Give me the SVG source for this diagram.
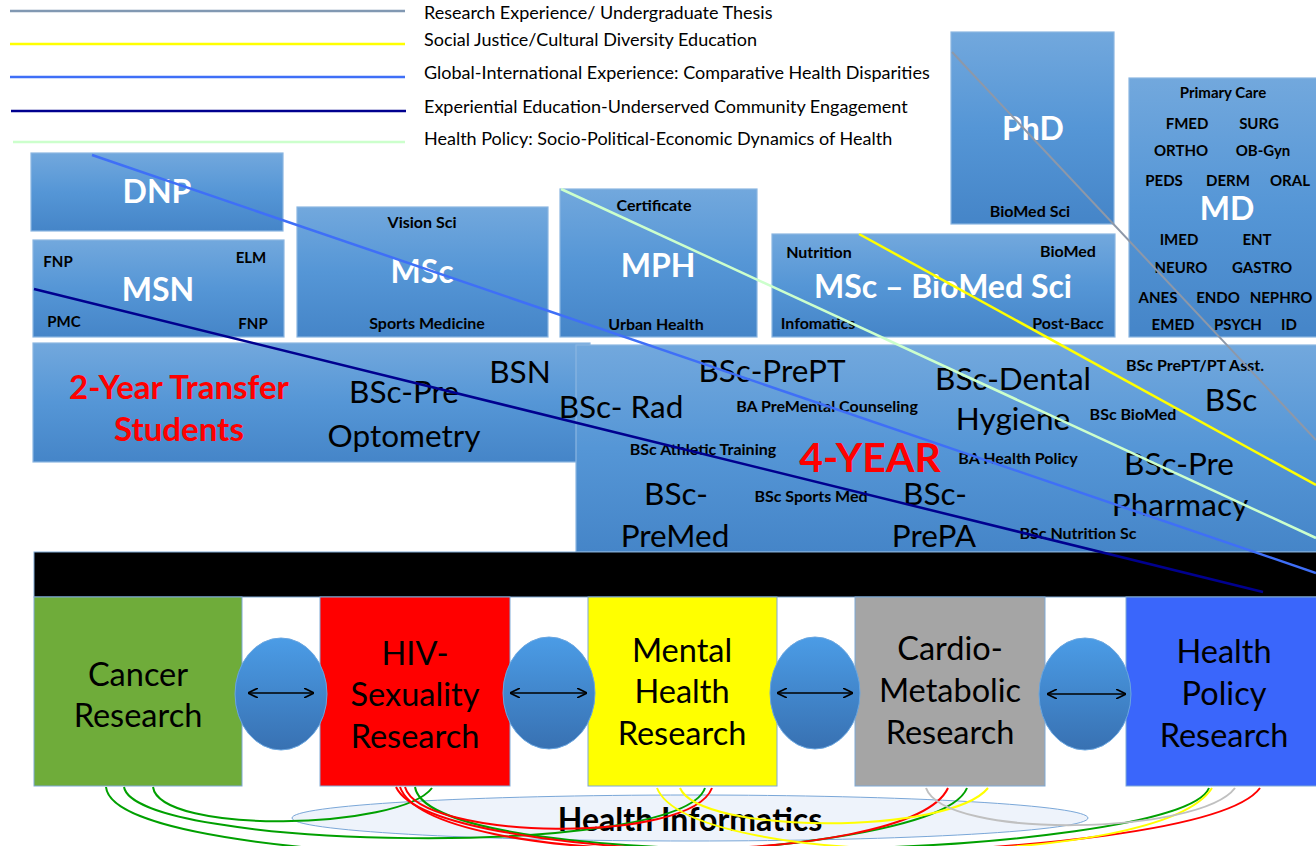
<svg xmlns="http://www.w3.org/2000/svg" width="1316" height="846" viewBox="0 0 1316 846">
<defs>
<linearGradient id="bg" x1="0" y1="0" x2="0" y2="1"><stop offset="0" stop-color="#72a8dd"/><stop offset="0.5" stop-color="#5596d6"/><stop offset="1" stop-color="#4585c8"/></linearGradient>
<linearGradient id="eg" x1="0" y1="0" x2="0" y2="1"><stop offset="0" stop-color="#4b9ce6"/><stop offset="1" stop-color="#3871b2"/></linearGradient>
<marker id="arr" viewBox="0 0 10 10" refX="9" refY="5" markerWidth="10" markerHeight="10" markerUnits="userSpaceOnUse" orient="auto-start-reverse"><path d="M0,0 L10,5 L0,10" fill="none" stroke="#000" stroke-width="1.6"/></marker>
</defs>
<style>
text{font-family:Lato,"Liberation Sans",sans-serif}
.box{fill:url(#bg);stroke:#8bb6e2;stroke-width:1.2}
.w{fill:#fff;font-weight:bold;font-size:32px;text-anchor:middle}
.s{fill:#000;font-weight:bold;font-size:16px;text-anchor:middle}
.m{fill:#000;font-weight:bold;font-size:15px;text-anchor:middle}
.b{fill:#000;font-size:31.5px;text-anchor:middle}
.red{fill:#f00;font-weight:bold;text-anchor:middle}
.leg{fill:#000;font-size:18px}
.rb{stroke:#7fa9d6;stroke-width:1}
.r{fill:#000;font-size:32.5px;text-anchor:middle}
.ell{fill:url(#eg);stroke:#6aa6e0;stroke-width:1}
.dbl{stroke:#000;stroke-width:1.6;marker-start:url(#arr);marker-end:url(#arr)}
.cv{fill:none;stroke-width:2}
</style>
<g id="legend">
<line x1="10" y1="11" x2="405" y2="11" stroke="#8198b2" stroke-width="2.5"/>
<text class="leg" x="424" y="19">Research Experience/ Undergraduate Thesis</text>
<line x1="10" y1="44" x2="405" y2="44" stroke="#ffff00" stroke-width="2.5"/>
<text class="leg" x="424" y="46">Social Justice/Cultural Diversity Education</text>
<line x1="10" y1="77" x2="405" y2="77" stroke="#3f6ff7" stroke-width="2.5"/>
<text class="leg" x="424" y="79">Global-International Experience: Comparative Health Disparities</text>
<line x1="11" y1="111" x2="406" y2="111" stroke="#00008f" stroke-width="2.5"/>
<text class="leg" x="424" y="113">Experiential Education-Underserved Community Engagement</text>
<line x1="13" y1="142" x2="405" y2="142" stroke="#ccffcc" stroke-width="2.5"/>
<text class="leg" x="424" y="145">Health Policy: Socio-Political-Economic Dynamics of Health</text>
</g>
<g id="dnp"><rect class="box" x="31" y="153" width="252" height="78"/><text class="w" x="157" y="203">DNP</text></g>
<g id="msn"><rect class="box" x="33" y="240" width="251" height="97"/><text class="w" x="158" y="301">MSN</text>
<text class="m" x="58" y="267">FNP</text><text class="m" x="251" y="263">ELM</text><text class="m" x="64" y="327">PMC</text><text class="m" x="253" y="329">FNP</text></g>
<g id="msc"><rect class="box" x="297" y="207" width="251" height="130"/><text class="s" x="422" y="228">Vision Sci</text><text class="w" x="422" y="283">MSc</text><text class="s" x="427" y="329">Sports Medicine</text></g>
<g id="mph"><rect class="box" x="560" y="189" width="197" height="148"/><text class="s" x="654" y="211">Certificate</text><text class="w" x="658" y="277">MPH</text><text class="s" x="656" y="330">Urban Health</text></g>
<g id="msc-biomed"><rect class="box" x="772" y="234" width="343" height="103"/><text class="s" x="819" y="258">Nutrition</text><text class="s" x="1068" y="257">BioMed</text><text class="w" x="943" y="298" font-size="33">MSc – BioMed Sci</text><text class="s" x="818" y="329">Infomatics</text><text class="s" x="1068" y="329">Post-Bacc</text></g>
<g id="phd"><rect class="box" x="951" y="32" width="163" height="192"/><text class="w" x="1033" y="140">PhD</text><text class="s" x="1030" y="217">BioMed Sci</text></g>
<g id="md"><rect class="box" x="1129" y="78" width="190" height="259"/>
<text class="m" x="1223" y="98">Primary Care</text>
<text class="m" x="1187" y="129">FMED</text><text class="m" x="1259" y="129">SURG</text>
<text class="m" x="1181" y="156">ORTHO</text><text class="m" x="1263" y="156">OB-Gyn</text>
<text class="m" x="1164" y="186">PEDS</text><text class="m" x="1228" y="186">DERM</text><text class="m" x="1290" y="186">ORAL</text>
<text class="w" x="1227" y="220">MD</text>
<text class="m" x="1179" y="245">IMED</text><text class="m" x="1257" y="245">ENT</text>
<text class="m" x="1181" y="273">NEURO</text><text class="m" x="1262" y="273">GASTRO</text>
<text class="m" x="1158" y="303">ANES</text><text class="m" x="1218" y="303">ENDO</text><text class="m" x="1281" y="303">NEPHRO</text>
<text class="m" x="1173" y="330">EMED</text><text class="m" x="1238" y="330">PSYCH</text><text class="m" x="1289" y="330">ID</text></g>
<g id="two-year"><rect class="box" x="33" y="343" width="557" height="119"/>
<text class="red" x="179" y="399" font-size="33">2-Year Transfer</text><text class="red" x="179" y="441" font-size="33">Students</text>
<text class="b" x="404" y="403">BSc-Pre</text><text class="b" x="404" y="447">Optometry</text><text class="b" x="520" y="383">BSN</text></g>
<g id="four-year"><rect class="box" x="576" y="345" width="745" height="207"/>
<text class="b" x="621" y="418">BSc- Rad</text><text class="b" x="772" y="382">BSc-PrePT</text>
<text class="b" x="1013" y="390">BSc-Dental</text><text class="b" x="1013" y="430">Hygiene</text>
<text class="b" x="1231" y="411">BSc</text><text class="b" x="1179" y="475">BSc-Pre</text><text class="b" x="1180" y="516">Pharmacy</text>
<text class="b" x="676" y="505">BSc-</text><text class="b" x="675" y="547">PreMed</text>
<text class="b" x="935" y="505">BSc-</text><text class="b" x="934" y="547">PrePA</text>
<text class="s" x="827" y="412">BA PreMental Counseling</text><text class="s" x="703" y="455">BSc Athletic Training</text>
<text class="s" x="1018" y="464">BA Health Policy</text><text class="s" x="1133" y="420">BSc BioMed</text>
<text class="s" x="1195" y="371">BSc PrePT/PT Asst.</text><text class="s" x="811" y="502">BSc Sports Med</text>
<text class="s" x="1078" y="539">BSc Nutrition Sc</text>
<text class="red" x="870" y="472" font-size="41">4-YEAR</text></g>
<g id="bar"><rect x="34" y="552" width="1290" height="45" fill="#000" stroke="#7fa9d6" stroke-width="1"/></g>
<g id="cancer"><rect class="rb" x="34" y="597" width="208" height="189" fill="#6fac3a"/><text class="r" x="138" y="686">Cancer</text><text class="r" x="138" y="727">Research</text></g>
<g id="hiv"><rect class="rb" x="320" y="597" width="190" height="189" fill="#ff0000"/><text class="r" x="415" y="665">HIV-</text><text class="r" x="415" y="706">Sexuality</text><text class="r" x="415" y="748">Research</text></g>
<g id="mental"><rect class="rb" x="588" y="597" width="189" height="189" fill="#ffff00"/><text class="r" x="682" y="662">Mental</text><text class="r" x="682" y="703">Health</text><text class="r" x="682" y="745">Research</text></g>
<g id="cardio"><rect class="rb" x="855" y="597" width="190" height="189" fill="#a5a5a5"/><text class="r" x="950" y="660">Cardio-</text><text class="r" x="950" y="702">Metabolic</text><text class="r" x="950" y="744">Research</text></g>
<g id="policy"><rect class="rb" x="1126" y="597" width="195" height="189" fill="#3a66fb"/><text class="r" x="1224" y="663">Health</text><text class="r" x="1224" y="705">Policy</text><text class="r" x="1224" y="747">Research</text></g>
<g id="link1"><ellipse class="ell" cx="281" cy="694" rx="46" ry="56"/><line class="dbl" x1="249" y1="693" x2="313" y2="693"/></g>
<g id="link2"><ellipse class="ell" cx="549" cy="693" rx="46" ry="56"/><line class="dbl" x1="511" y1="693" x2="586" y2="693"/></g>
<g id="link3"><ellipse class="ell" cx="815" cy="693" rx="45" ry="56"/><line class="dbl" x1="778" y1="693" x2="852" y2="693"/></g>
<g id="link4"><ellipse class="ell" cx="1085" cy="694" rx="46" ry="56"/><line class="dbl" x1="1048" y1="694" x2="1125" y2="694"/></g>
<g id="informatics"><ellipse cx="690" cy="818" rx="398" ry="23" fill="#eef3fb" stroke="#7aa7d8" stroke-width="1"/>
<text x="690" y="831" font-size="32" font-weight="bold" text-anchor="middle" fill="#000">Health Informatics</text></g>
<g id="connectors">
<path class="cv" stroke="#00a000" d="M153,787 C160,835 400,830 432,788"/>
<path class="cv" stroke="#00a000" d="M124,787 C135,850 680,860 705,788"/>
<path class="cv" stroke="#00a000" d="M106,787 C115,880 930,880 967,788"/>
<path class="cv" stroke="#00a000" d="M415,787 C430,880 1180,860 1209,788"/>
<path class="cv" stroke="#ff0000" d="M405,787 C420,840 690,845 712,788"/>
<path class="cv" stroke="#ff0000" d="M400,787 C430,870 910,870 948,788"/>
<path class="cv" stroke="#ff0000" d="M396,787 C440,880 1200,870 1260,788"/>
<path class="cv" stroke="#ffff00" d="M680,788 C700,835 950,835 988,788"/>
<path class="cv" stroke="#ffff00" d="M657,788 C690,870 1160,870 1212,788"/>
<path class="cv" stroke="#c0c0c0" d="M926,788 C945,840 1200,835 1235,788"/>
<line x1="952" y1="52" x2="1316" y2="440" stroke="#8e98a8" stroke-width="2"/>
<line x1="859" y1="234" x2="1316" y2="485" stroke="#ffff00" stroke-width="2.5"/>
<line x1="561" y1="189" x2="1316" y2="538" stroke="#ccffcc" stroke-width="2.5"/>
<line x1="92" y1="155" x2="1316" y2="573" stroke="#3f6ff7" stroke-width="2.5"/>
<line x1="34" y1="289" x2="1263" y2="592" stroke="#00008f" stroke-width="2.5"/>
</g>
</svg>
